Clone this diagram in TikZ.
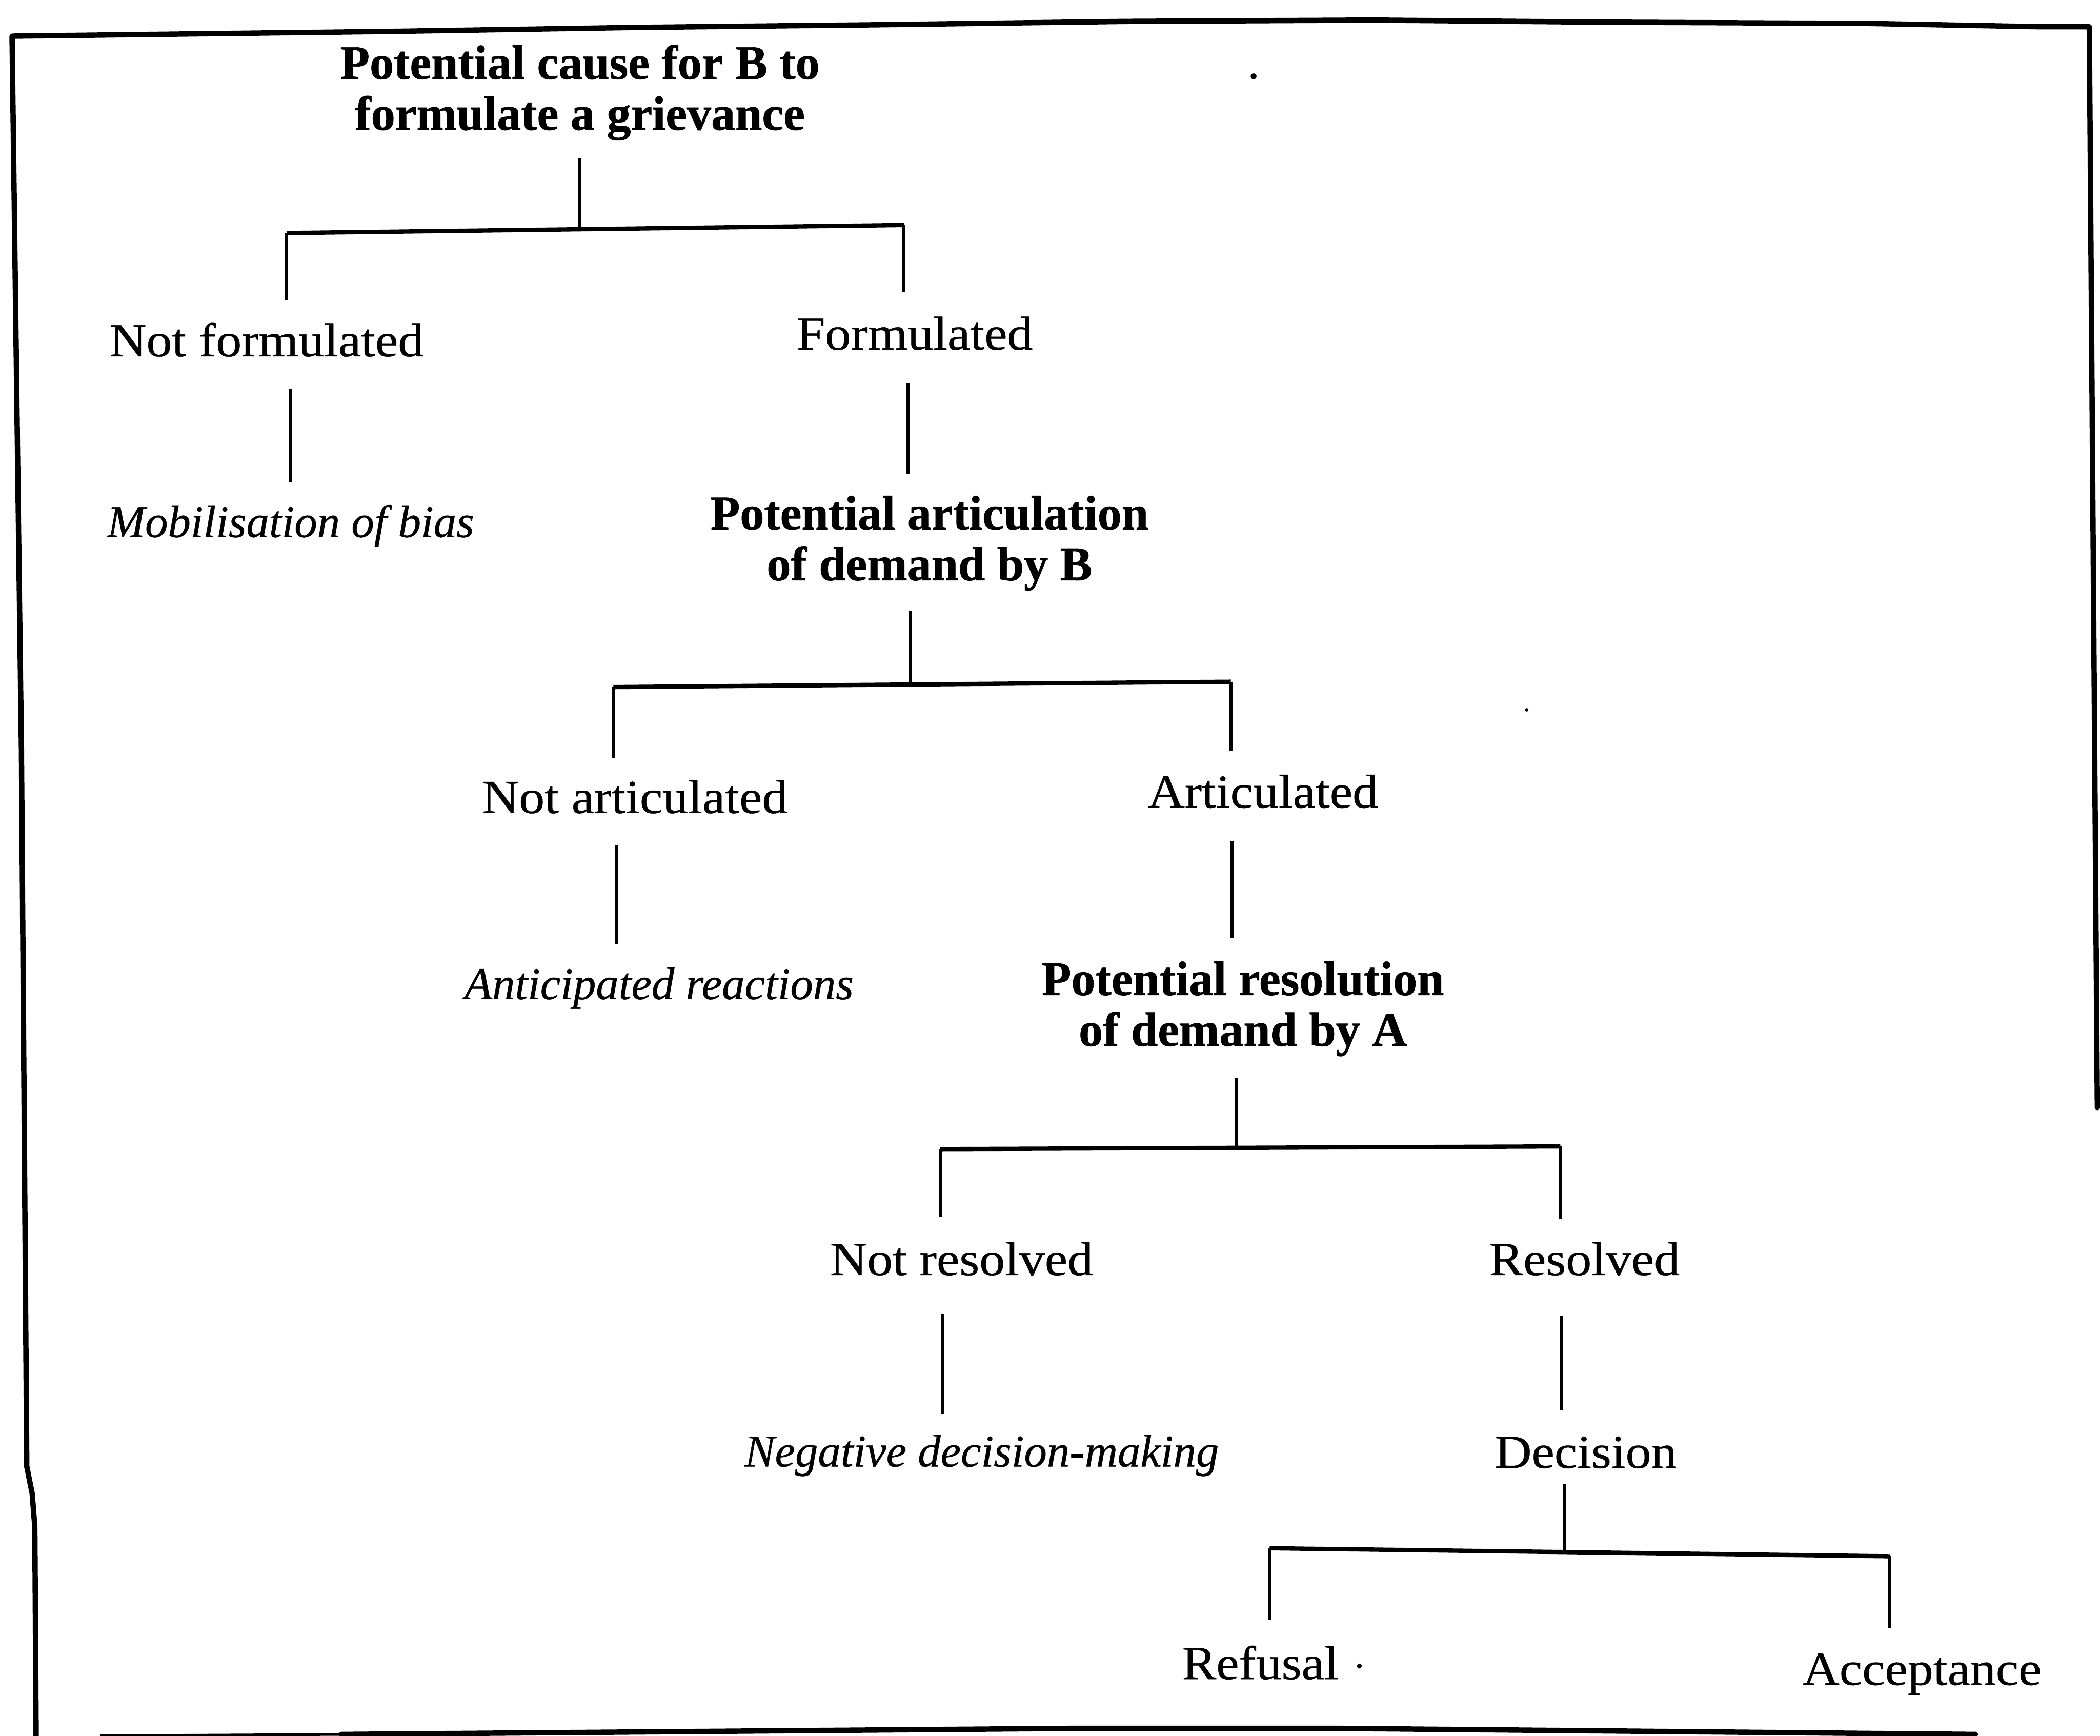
\documentclass[tikz,border=0pt]{standalone}
\usepackage{fontspec}
\setmainfont{Liberation Serif}
\newfontfamily\headfont[FakeBold=0.8]{Liberation Serif Bold}
\newfontfamily\optfont[FakeStretch=1.08, FakeBold=0.5]{Liberation Serif}
\newfontfamily\outfont[FakeBold=0.5]{Liberation Serif Italic}
\begin{document}
\begin{tikzpicture}[x=1pt,y=-1pt,
  headnode/.style={font=\headfont\fontsize{36}{38}\selectfont, align=center, inner sep=0pt, anchor=north},
  optnode/.style={font=\optfont\fontsize{35.4}{38}\selectfont, inner sep=0pt, text height=26pt, text depth=8pt, anchor=base},
  outnode/.style={font=\outfont\fontsize{34}{38}\selectfont, inner sep=0pt, text height=26pt, text depth=8pt, anchor=base},
  stem/.style={line width=2.2pt},
  barline/.style={line width=3.2pt},
  frame/.style={line width=4pt, line join=round, line cap=round},
  speck/.style={fill=black},
]
\useasboundingbox (0,0) rectangle (1568,1296);

% outer frame
\draw[frame] (1566,827) -- (1560,20) -- (1525,20) -- (1395,17.5) -- (1190,16.5)
  -- (1025,15) -- (840,16) -- (655,18.5) -- (475,20.5) -- (290,23.5) -- (9,27)
  -- (16,560) -- (20,1095) -- (24,1115) -- (26,1140) -- (27,1300);
\draw[frame] (255,1295) -- (800,1290.5) -- (1000,1290.5) -- (1475,1295);
\draw[line width=2pt] (75,1296) -- (255,1295);

% text nodes
\node[headnode] (root) at (433,32.7) {\rule{0pt}{26pt}Potential cause for B to\\formulate a grievance\rule[-8pt]{0pt}{8pt}};
\node[optnode] (nf) at (199,266) {Not formulated};
\node[optnode] (fo) at (683,261) {Formulated};
\node[outnode] (mob) at (217,401) {Mobilisation of bias};
\node[headnode] (pa) at (694,369) {\rule{0pt}{26pt}Potential articulation\\of demand by B\rule[-8pt]{0pt}{8pt}};
\node[optnode] (na) at (474,607) {Not articulated};
\node[optnode] (ar) at (943,603) {Articulated};
\node[outnode] (ant) at (492,746) {Anticipated reactions};
\node[headnode] (pr) at (928,716.7) {\rule{0pt}{26pt}Potential resolution\\of demand by A\rule[-8pt]{0pt}{8pt}};
\node[optnode] (nr) at (718,952) {Not resolved};
\node[optnode] (rs) at (1183,952) {Resolved};
\node[outnode] (neg) at (733,1095) {Negative decision-making};
\node[optnode] (dec) at (1184,1096) {Decision};
\node[optnode] (ref) at (941,1253.7) {Refusal};
\node[optnode] (acc) at (1435,1258) {Acceptance};

% branch points and line positions
\coordinate (j0) at (433,171);
\coordinate (l0) at (214,174);
\coordinate (r0) at (675,168);
\coordinate (v1) at (678,300);
\coordinate (j1) at (680,511);
\coordinate (l1) at (458,513);
\coordinate (r1) at (919,509);
\coordinate (v2) at (460,650);
\coordinate (v3) at (920,650);
\coordinate (j2) at (923,857);
\coordinate (l2) at (702,858);
\coordinate (r2) at (1165,856);
\coordinate (v4) at (704,1000);
\coordinate (v5) at (1166,1000);
\coordinate (j3) at (1168,1159);
\coordinate (l3) at (948,1156);
\coordinate (r3) at (1411,1162);

% first split: formulated or not
\draw[stem, shorten <=13pt] (root.south -| j0) -- (j0);
\draw[barline] (l0) -- (r0);
\draw[stem, shorten >=16pt] (l0) -- (l0 |- nf.north);
\draw[stem, shorten >=17pt] (r0) -- (r0 |- fo.north);
\draw[stem, shorten <=16pt, shorten >=15pt] (nf.south -| mob.north) -- (mob.north);
\draw[stem, shorten <=17pt, shorten >=15pt] (fo.south -| v1) -- (pa.north -| v1);

% second split: articulated or not
\draw[stem, shorten <=15pt] (pa.south -| j1) -- (j1);
\draw[barline] (l1) -- (r1);
\draw[stem, shorten >=15pt] (l1) -- (l1 |- na.north);
\draw[stem, shorten >=16pt] (r1) -- (r1 |- ar.north);
\draw[stem, shorten <=16pt, shorten >=14.5pt] (na.south -| v2) -- (ant.north -| v2);
\draw[stem, shorten <=17pt, shorten >=16.7pt] (ar.south -| v3) -- (pr.north -| v3);

% third split: resolved or not
\draw[stem, shorten <=16pt] (pr.south -| j2) -- (j2);
\draw[barline] (l2) -- (r2);
\draw[stem, shorten >=17pt] (l2) -- (l2 |- nr.north);
\draw[stem, shorten >=16pt] (r2) -- (r2 |- rs.north);
\draw[stem, shorten <=21pt, shorten >=13pt] (nr.south -| v4) -- (neg.north -| v4);
\draw[stem, shorten <=22pt, shorten >=17pt] (rs.south -| v5) -- (dec.north -| v5);

% decision: refusal or acceptance
\draw[stem, shorten <=4pt] (dec.south -| j3) -- (j3);
\draw[barline] (l3) -- (r3);
\draw[stem, shorten >=17.7pt] (l3) -- (l3 |- ref.north);
\draw[stem, shorten >=16.5pt] (r3) -- (r3 |- acc.north);

% stray printed dots
\fill[speck] (936,57) circle[radius=2.2pt];
\fill[speck] (1140,530) circle[radius=1.3pt];
\fill[speck] (1015,1244) circle[radius=1.8pt];
\end{tikzpicture}
\end{document}
